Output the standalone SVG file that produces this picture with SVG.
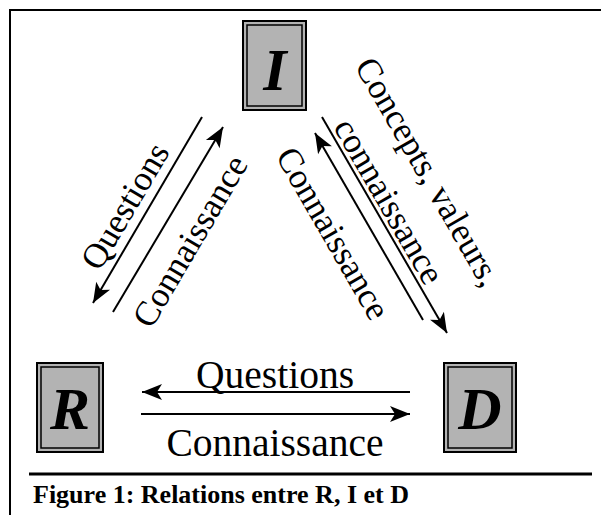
<svg xmlns="http://www.w3.org/2000/svg" width="601" height="515" viewBox="0 0 601 515">
<defs>
<style>
.frame{stroke:#000;stroke-width:2;fill:none}
.box{fill:#b3b3b3;stroke:#000;stroke-width:2}
.inner{fill:none;stroke:#000;stroke-width:1.5}
.letter{font-family:"Liberation Serif","Times New Roman",serif;font-weight:bold;font-style:italic;font-size:60px;text-anchor:middle;fill:#000}
.lbl{font-family:"Liberation Serif","Times New Roman",serif;font-size:35px;fill:#000}
.hlbl{font-family:"Liberation Serif","Times New Roman",serif;font-size:39.5px;fill:#000;text-anchor:middle}
.arr{stroke:#000;stroke-width:2;fill:none;marker-end:url(#ah)}
.cap{font-family:"Liberation Serif","Times New Roman",serif;font-weight:bold;font-size:26px;fill:#000}
</style>
<marker id="ah" markerUnits="userSpaceOnUse" markerWidth="24" markerHeight="20" viewBox="-22 -10 24 20" refX="0" refY="0" orient="auto">
<path d="M0,0 L-20,-8 L-15,0 L-20,8 Z" fill="#000"/>
</marker>
</defs>
<rect width="601" height="515" fill="#fff"/>
<path class="frame" d="M10,515 L10,10 L601,10"/>
<line x1="29" y1="474" x2="592" y2="474" stroke="#000" stroke-width="3"/>
<text class="cap" x="33" y="503">Figure 1: Relations entre R, I et D</text>

<g id="node-I">
<rect class="box" x="243" y="21" width="63" height="89"/>
<rect class="inner" x="247" y="25" width="55" height="81"/>
<text class="letter" x="275" y="90">I</text>
</g>
<g id="node-R">
<rect class="box" x="37" y="363" width="66" height="89"/>
<rect class="inner" x="41" y="367" width="58" height="81"/>
<text class="letter" x="70" y="429">R</text>
</g>
<g id="node-D">
<rect class="box" x="444" y="363" width="72" height="89"/>
<rect class="inner" x="448" y="367" width="64" height="81"/>
<text class="letter" x="480" y="429">D</text>
</g>

<g id="connectors">
<line class="arr" x1="202" y1="117" x2="93" y2="303"/>
<line class="arr" x1="113" y1="312" x2="223" y2="127"/>
<line class="arr" x1="322" y1="117" x2="447" y2="333"/>
<line class="arr" x1="423" y1="320" x2="315" y2="133"/>
<line class="arr" x1="410" y1="392" x2="142" y2="392"/>
<line class="arr" x1="141" y1="414" x2="410" y2="414"/>
<text class="lbl" text-anchor="middle" transform="translate(135,212) rotate(-59.5)">Questions</text>
<text class="lbl" text-anchor="middle" transform="translate(200,247) rotate(-59.5)">Connaissance</text>
<text class="lbl" text-anchor="middle" transform="translate(323,239) rotate(60)">Connaissance</text>
<text class="lbl" text-anchor="middle" transform="translate(379,207) rotate(60)">connaissance</text>
<text class="lbl" text-anchor="start" transform="translate(354,66) rotate(60)">Concepts, valeurs,</text>
<text class="hlbl" x="275" y="388">Questions</text>
<text class="hlbl" x="275" y="456">Connaissance</text>
</g>
</svg>
